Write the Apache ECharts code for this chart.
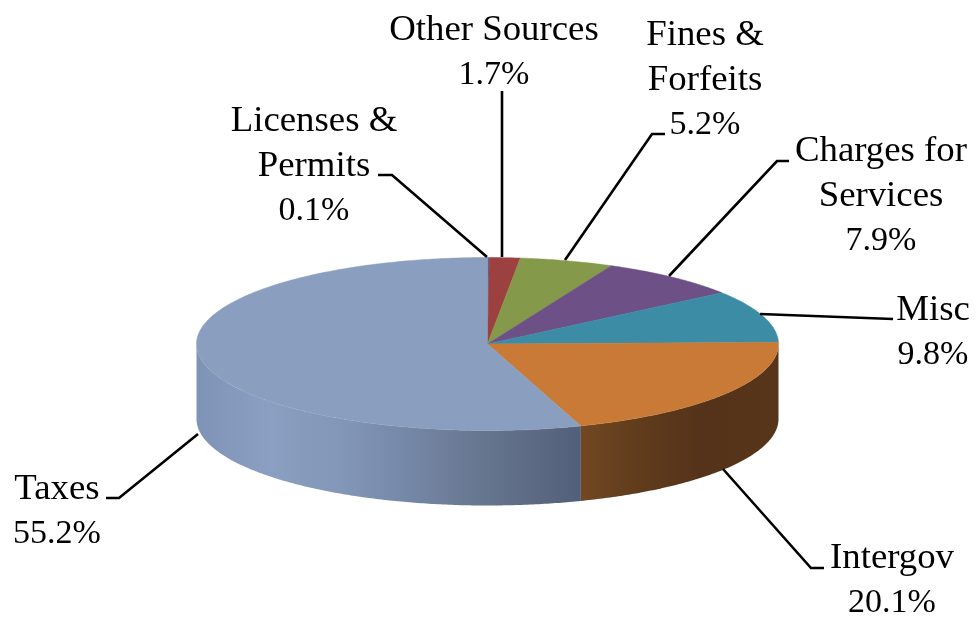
<!DOCTYPE html>
<html>
<head>
<meta charset="utf-8">
<style>html,body{margin:0;padding:0;background:#fff}#chart{width:977px;height:620px}</style>
<script src="https://cdn.jsdelivr.net/npm/echarts@6/dist/echarts.min.js"></script>
</head>
<body>
<div id="chart"></div>
<script>
// Data, clockwise from 12 o'clock
var categories = ['Licenses &\nPermits', 'Other Sources', 'Fines &\nForfeits', 'Charges for\nServices', 'Misc', 'Intergov', 'Taxes'];
var shares = [0.1, 1.7, 5.2, 7.9, 9.8, 20.1, 55.2];

// Styles
var topColors = ['#4f6a9a', '#9c4140', '#84994a', '#6c5086', '#3d8ca5', '#c97a36', '#8a9fc0'];
var wallStops = {
  5: [[0, '#704822'], [0.3, '#603c1c'], [0.6, '#55331a'], [1, '#57351a']],
  6: [[0, '#7e93b5'], [0.19, '#8a9fc1'], [0.37, '#8397b8'], [0.53, '#7789a9'], [0.74, '#67768f'], [1, '#525f7a']]
};

// Layout (pixels)
var disc = { cx: 487.5, cy: 344, rx: 291, ry: 86.5, depth: 75 };
var labelAnchor = [[314, 166], [494, 52.5], [705, 80], [881, 196], [933, 332.5], [892, 581], [57, 511.5]];
var leaders = [
  [[378, 175], [392, 175], [487, 257]],
  [[502, 91], [502, 257]],
  [[665, 134], [652, 134], [565, 260]],
  [[789, 161], [777, 161], [669, 276]],
  [[893, 319], [760, 314]],
  [[824, 568], [811, 568], [723, 469]],
  [[106, 498], [119, 498], [198, 434]]
];
var NAME_FONT = '36.8px "Liberation Serif", serif';
var PCT_FONT = '34px "Liberation Serif", serif';
var LINE_H = 45;

var total = shares.reduce(function (a, b) { return a + b; }, 0);
var spans = [];
shares.reduce(function (acc, v) {
  var next = acc + v;
  spans.push([acc / total * 2 * Math.PI, next / total * 2 * Math.PI]);
  return next;
}, 0);

function rim(theta, drop) {
  return [disc.cx + disc.rx * Math.sin(theta), disc.cy + (drop || 0) - disc.ry * Math.cos(theta)];
}
function arc(a, b, drop) {
  var pts = [], n = Math.max(2, Math.ceil(Math.abs(b - a) / 0.01));
  for (var i = 0; i <= n; i++) pts.push(rim(a + (b - a) * i / n, drop));
  return pts;
}
function seriesData() {
  return shares.map(function (v, i) { return { name: categories[i].replace('\n', ' '), value: v }; });
}
function labelText(i) {
  return categories[i].split('\n').map(function (l) { return '{n|' + l + '}'; }).join('\n') +
    '\n{p|' + shares[i].toFixed(1) + '%}';
}

var option = {
  backgroundColor: '#ffffff',
  animation: false,
  series: [
    {
      type: 'custom', coordinateSystem: 'none', silent: true, z: 1,
      data: seriesData(),
      renderItem: function (params) {
        var i = params.dataIndex;
        var a = Math.max(spans[i][0], Math.PI / 2), b = Math.min(spans[i][1], Math.PI * 1.5);
        if (b <= a) return { type: 'group', children: [] };
        var pts = arc(a, b, 0).concat(arc(b, a, disc.depth));
        var xs = pts.map(function (p) { return p[0]; });
        var x0 = Math.min.apply(null, xs), x1 = Math.max.apply(null, xs);
        var stops = (wallStops[i] || [[0, topColors[i]], [1, topColors[i]]]).map(function (s) {
          return { offset: s[0], color: s[1] };
        });
        return {
          type: 'polygon',
          shape: { points: pts },
          style: { fill: { type: 'linear', x: x0, y: 0, x2: x1, y2: 0, global: true, colorStops: stops } }
        };
      }
    },
    {
      type: 'custom', coordinateSystem: 'none', silent: true, z: 2,
      data: seriesData(),
      renderItem: function (params) {
        var i = params.dataIndex;
        var pts = [[disc.cx, disc.cy]].concat(arc(spans[i][0], spans[i][1], 0));
        return {
          type: 'polygon',
          shape: { points: pts },
          style: { fill: topColors[i], stroke: topColors[i], lineWidth: 0.5 }
        };
      }
    },
    {
      type: 'custom', coordinateSystem: 'none', silent: true, z: 3,
      data: seriesData(),
      renderItem: function (params) {
        var i = params.dataIndex;
        return {
          type: 'group',
          children: [
            {
              type: 'polyline',
              shape: { points: leaders[i] },
              style: { fill: null, stroke: '#000', lineWidth: 2.6 }
            },
            {
              type: 'text',
              x: labelAnchor[i][0], y: labelAnchor[i][1],
              style: {
                text: labelText(i),
                fill: '#000', align: 'center', verticalAlign: 'middle',
                rich: {
                  n: { font: NAME_FONT, fill: '#000', lineHeight: LINE_H },
                  p: { font: PCT_FONT, fill: '#000', lineHeight: LINE_H }
                }
              }
            }
          ]
        };
      }
    }
  ]
};
echarts.init(document.getElementById('chart'), null, { renderer: 'canvas' }).setOption(option);
</script>
</body>
</html>
